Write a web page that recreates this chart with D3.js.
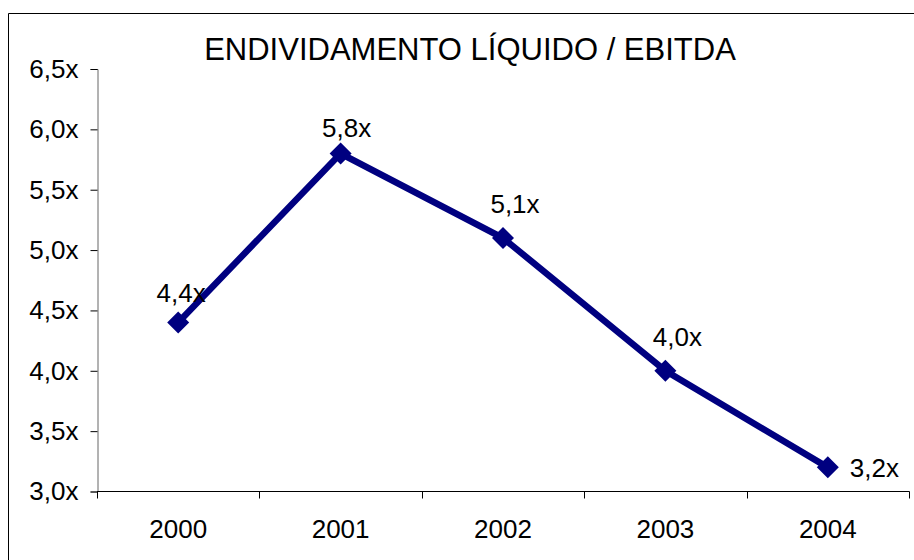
<!DOCTYPE html>
<html>
<head>
<meta charset="utf-8">
<script src="https://cdnjs.cloudflare.com/ajax/libs/d3/7.8.5/d3.min.js"></script>
<style>
  body { margin: 0; background: #fff; }
  svg { display: block; font-family: "Liberation Sans", Arial, sans-serif; }
</style>
</head>
<body>
<div id="main"></div>
<script>
// chart data
const years = ["2000", "2001", "2002", "2003", "2004"];
const ratios = [4.4, 5.8, 5.1, 4.0, 3.2];
const yTicks = [3.0, 3.5, 4.0, 4.5, 5.0, 5.5, 6.0, 6.5];
const title = "ENDIVIDAMENTO LÍQUIDO / EBITDA";

const width = 914, height = 560;
const navy = "#000080";

// label placement next to each point: dx, dy, anchor
const labelOffsets = [[3, -21, "middle"], [6, -17, "middle"], [12, -25, "middle"], [12, -25, "middle"], [22, 10, "start"]];

const fmt = v => d3.format(".1f")(v).replace(".", ",") + "x";

const svg = d3.select("#main").append("svg")
  .attr("width", width).attr("height", height);

// outer frame (only left and top visible)
svg.append("path")
  .attr("d", "M8.5," + (height + 5) + "V13.5H" + (width + 5))
  .attr("fill", "none").attr("stroke", "#000").attr("stroke-width", 1);

// title
svg.append("text")
  .attr("x", 470).attr("y", 60)
  .attr("text-anchor", "middle")
  .style("font-size", "31px")
  .text(title);

// scales
const x = d3.scaleBand().domain(years).range([97, 909]).padding(0);
const y = d3.scaleLinear().domain([3, 6.5]).range([491.5, 69]);

// y axis
const yAxis = d3.axisLeft(y).tickValues(yTicks).tickSize(7).tickPadding(12).tickFormat(fmt);
const gy = svg.append("g").attr("transform", "translate(97.5,0)").call(yAxis);
gy.attr("font-family", null).attr("font-size", null);
gy.select(".domain").attr("stroke", "#666");
gy.selectAll("text").style("font-size", "26px").attr("fill", "#000");

// x axis with ticks on band edges
const gx = svg.append("g").attr("transform", "translate(0,491.5)");
gx.append("line").attr("x1", 97).attr("x2", 909.5).attr("stroke", "#000");
gx.selectAll("line.tick").data(years.concat(["end"])).enter().append("line")
  .attr("class", "tick")
  .attr("x1", (d, i) => Math.round(i < years.length ? x(d) : x.range()[1]) + 0.5)
  .attr("x2", (d, i) => Math.round(i < years.length ? x(d) : x.range()[1]) + 0.5)
  .attr("y1", 0).attr("y2", 7).attr("stroke", "#000");
gx.selectAll("text").data(years).enter().append("text")
  .attr("x", d => x(d) + x.bandwidth() / 2)
  .attr("y", 46)
  .attr("text-anchor", "middle")
  .style("font-size", "26px")
  .text(d => d);

// line
const line = d3.line()
  .x((d, i) => x(years[i]) + x.bandwidth() / 2)
  .y(d => y(d));

svg.append("path").datum(ratios)
  .attr("d", line)
  .attr("fill", "none")
  .attr("stroke", navy)
  .attr("stroke-width", 6.5)
  .attr("stroke-linejoin", "miter");

// diamond markers
const r = 11;
svg.selectAll("path.marker").data(ratios).enter().append("path")
  .attr("class", "marker")
  .attr("d", (d, i) => {
    const cx = x(years[i]) + x.bandwidth() / 2, cy = y(d);
    return "M" + cx + "," + (cy - r) + "L" + (cx + r) + "," + cy + "L" + cx + "," + (cy + r) + "L" + (cx - r) + "," + cy + "Z";
  })
  .attr("fill", navy);

// data labels
svg.selectAll("text.label").data(ratios).enter().append("text")
  .attr("class", "label")
  .attr("x", (d, i) => x(years[i]) + x.bandwidth() / 2 + labelOffsets[i][0])
  .attr("y", (d, i) => y(d) + labelOffsets[i][1])
  .attr("text-anchor", (d, i) => labelOffsets[i][2])
  .style("font-size", "26px")
  .text(fmt);
</script>
</body>
</html>
